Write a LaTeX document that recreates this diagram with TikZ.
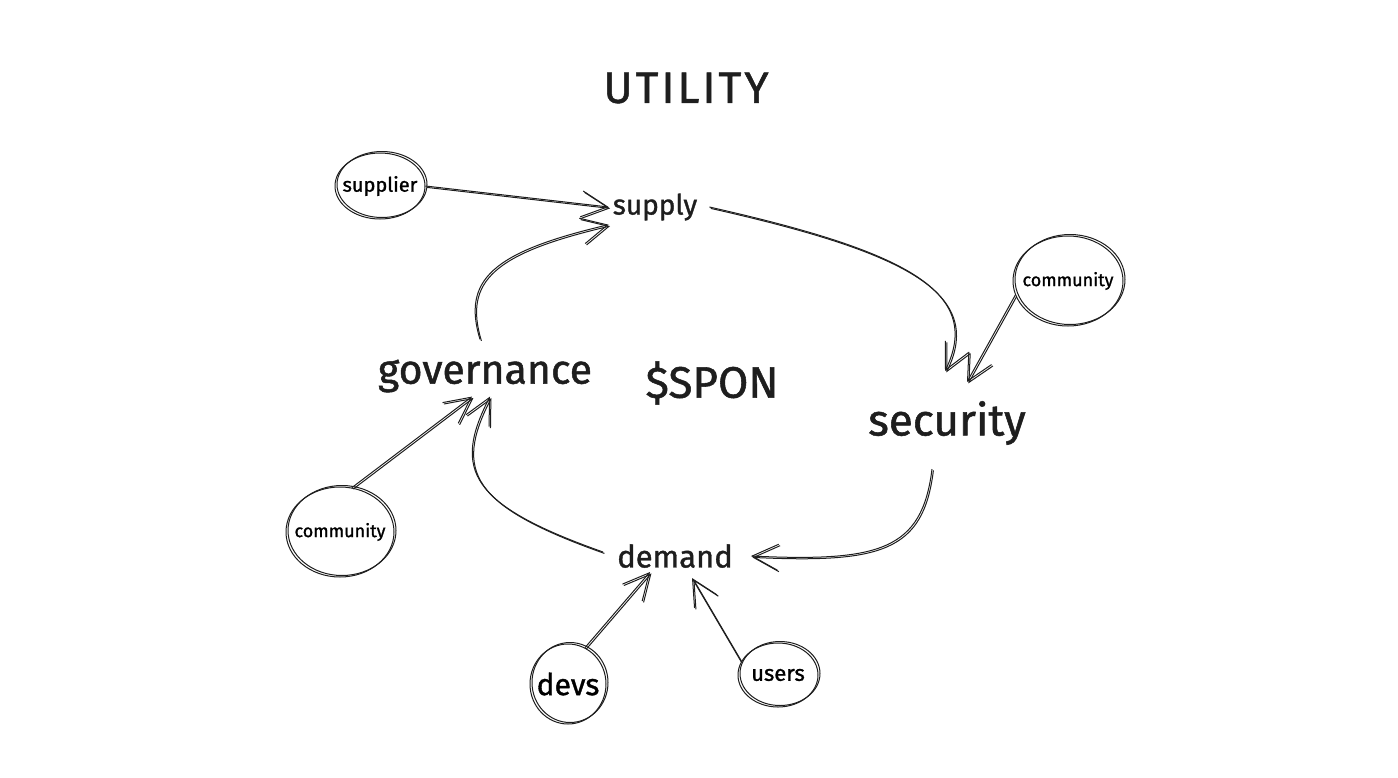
\documentclass[tikz,border=0pt]{standalone}
\usepackage{fontspec}
\setmainfont{Fira Sans}[FakeBold=1.2]
\usetikzlibrary{arrows.meta,shapes.geometric}
\definecolor{ink}{HTML}{1E1E1E}

\begin{document}
\begin{tikzpicture}[x=1pt,y=-1pt,
	txt/.style={inner sep=4pt, text=ink},
	wire/.style={draw=ink, line width=1pt, -{Straight Barb[length=26pt,width=26pt]},
		postaction={draw, transform canvas={shift={(1.4pt,-1.4pt)}}}},
	blob/.style={ellipse, draw=ink, line width=1pt, inner sep=0pt,
		postaction={draw, transform canvas={shift={(2pt,1.5pt)}}}},
]
	\useasboundingbox (0,0) rectangle (1398,777);

	% labels
	\node[txt, font=\fontsize{44}{48}\selectfont\addfontfeatures{LetterSpace=7}] (utility) at (686,88) {UTILITY};
	\node[txt, font=\fontsize{28}{32}\selectfont] (supply) at (655,207) {supply};
	\node[txt, font=\fontsize{41}{45}\selectfont] (gov) at (485,376) {governance};
	\node[txt, font=\fontsize{44}{48}\selectfont] (spon) at (712,383) {\$SPON};
	\node[txt, font=\fontsize{44}{48}\selectfont] (security) at (947,423) {security};
	\node[txt, font=\fontsize{31}{35}\selectfont] (demand) at (675,556) {demand};

	% circles
	\node[blob, minimum width=90pt, minimum height=66pt, label={[font=\fontsize{20}{24}\selectfont]center:supplier}] (sup) at (380,186) {};
	\node[blob, minimum width=110pt, minimum height=90pt, label={[font=\fontsize{18}{22}\selectfont]center:community}] (comR) at (1068,281) {};
	\node[blob, minimum width=108pt, minimum height=90pt, label={[font=\fontsize{18}{22}\selectfont]center:community}] (comL) at (340,532) {};
	\node[blob, minimum width=76pt, minimum height=80pt, label={[font=\fontsize{30}{34}\selectfont]center:devs}] (devs) at (568,684) {};
	\node[blob, minimum width=80pt, minimum height=64pt, label={[font=\fontsize{22}{26}\selectfont]center:users}] (users) at (778,675) {};

	% loop
	\draw[wire] ([shift={(-5pt,16pt)}]gov.north) .. controls (462,280) and (492,252) .. (supply.south west);
	\draw[wire] ([xshift=8pt]supply.east) .. controls (900,250) and (985,290) .. ([shift={(-2pt,26pt)}]security.north);
	\draw[wire] ([shift={(-15pt,-20pt)}]security.south) .. controls (922,550) and (880,562) .. ([xshift=14pt]demand.east);
	\draw[wire] ([shift={(-10pt,4pt)}]demand.west) .. controls (470,505) and (452,470) .. ([xshift=5pt]gov.south);

	% inputs
	\draw[wire] (sup.east) -- (supply.west);
	\draw[wire] (comR.195) -- ([shift={(20pt,15pt)}]security.north);
	\draw[wire] (comL.75) -- ([xshift=-13pt]gov.south);
	\draw[wire] (devs.65) -- ([xshift=-25pt]demand.south);
	\draw[wire] (users.160) -- ([shift={(17pt,-6pt)}]demand.south);
\end{tikzpicture}
\end{document}
